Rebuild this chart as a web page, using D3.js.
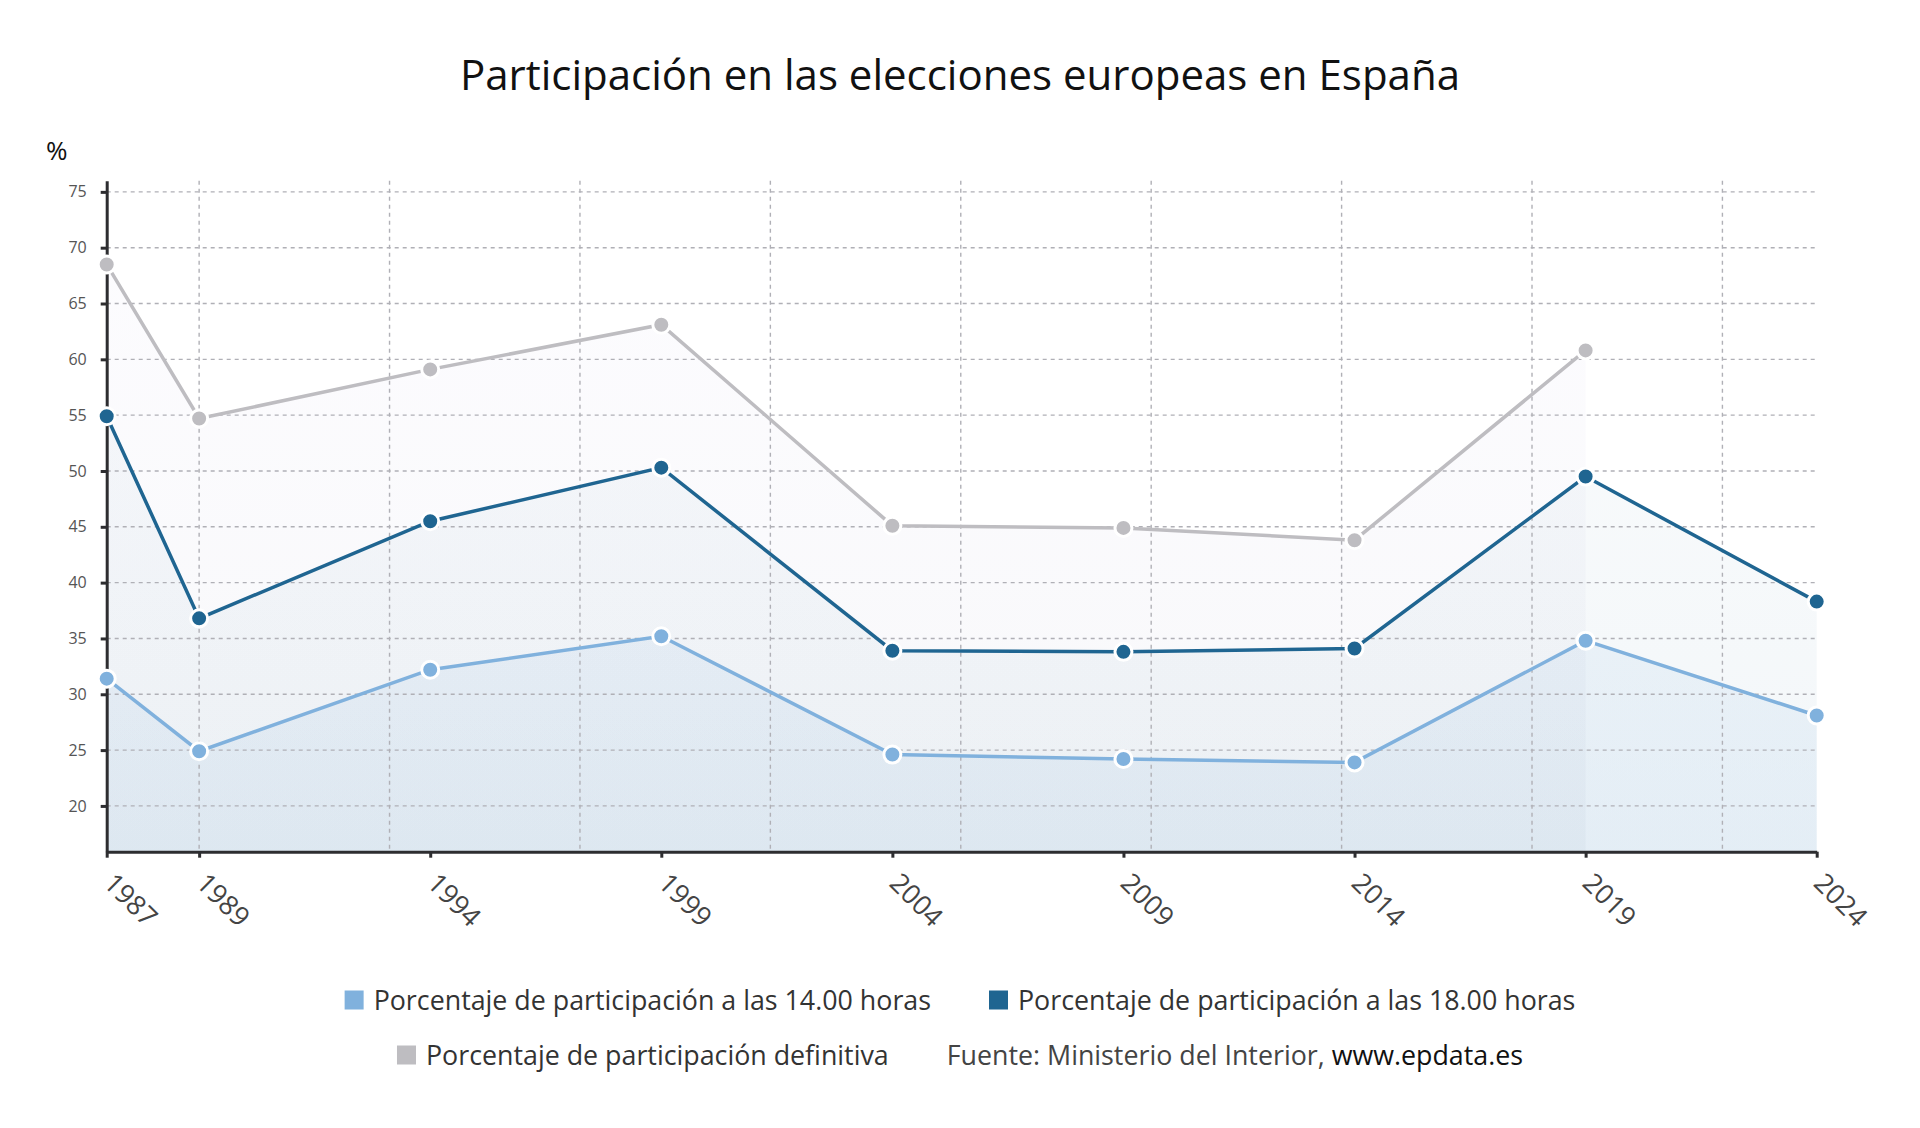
<!DOCTYPE html>
<html lang="es">
<head>
    <meta charset="UTF-8">
    <title>Participación en las elecciones europeas en España</title>
    <script src="https://d3js.org/d3.v7.min.js"></script>
    <style>
        body { margin: 0; background: #fff; }
        svg { display: block; font-family: "Open Sans", "Noto Sans", sans-serif; }
    </style>
</head>
<body>
<script>
    // data
    var years = [1987, 1989, 1994, 1999, 2004, 2009, 2014, 2019, 2024];
    var horas14 = [31.4, 24.9, 32.2, 35.2, 24.6, 24.2, 23.9, 34.8, 28.1];
    var horas18 = [54.9, 36.8, 45.5, 50.3, 33.9, 33.8, 34.1, 49.5, 38.3];
    var definitiva = [68.5, 54.7, 59.1, 63.1, 45.1, 44.9, 43.8, 60.8, null];
    var yTicks = [20, 25, 30, 35, 40, 45, 50, 55, 60, 65, 70, 75];
    var gridYears = [1989, 1993.12, 1997.24, 2001.36, 2005.48, 2009.6, 2013.72, 2017.84, 2021.96];
    var seriesNames = ["Porcentaje de participación a las 14.00 horas",
                       "Porcentaje de participación a las 18.00 horas",
                       "Porcentaje de participación definitiva"];
    var colors = ["#80b1dd", "#1f6591", "#bebdc1"];

    var w = 1920, h = 1128;
    var plotL = 106.7, plotR = 1816.7, plotT = 180.7, plotB = 851.7;

    var x = d3.scaleLinear().domain([1987, 2024]).range([plotL, plotR]);
    var y = d3.scaleLinear().domain([15.9, 76]).range([plotB, plotT]);

    var svg = d3.select("body").append("svg")
                .attr("width", w)
                .attr("height", h);

    // title
    svg.append("text")
        .attr("x", 960).attr("y", 90)
        .attr("text-anchor", "middle")
        .style("font-size", "42px")
        .style("fill", "#111")
        .text("Participación en las elecciones europeas en España");

    svg.append("text")
        .attr("x", 46).attr("y", 160)
        .style("font-size", "26px")
        .style("fill", "#111")
        .text("%");

    // gradients for the area fills
    var defs = svg.append("defs");
    var grads = [
        {id: "g14", stops: [["#80b1dd", 0.04], ["#80b1dd", 0.13]]},
        {id: "g18", stops: [["#1f6591", 0.02], ["#1f6591", 0.055]]},
        {id: "gdef", stops: [["#c4b8f0", 0.04], ["#a9b0c0", 0.09]]}
    ];
    grads.forEach(function(g) {
        var lg = defs.append("linearGradient")
            .attr("id", g.id)
            .attr("gradientUnits", "userSpaceOnUse")
            .attr("x1", 0).attr("x2", 0)
            .attr("y1", plotT).attr("y2", plotB);
        lg.append("stop").attr("offset", "0%")
            .attr("stop-color", g.stops[0][0]).attr("stop-opacity", g.stops[0][1]);
        lg.append("stop").attr("offset", "100%")
            .attr("stop-color", g.stops[1][0]).attr("stop-opacity", g.stops[1][1]);
    });

    var series = [horas14, horas18, definitiva].map(function(vals, i) {
        return {
            name: seriesNames[i],
            color: colors[i],
            grad: grads[i].id,
            points: years.map(function(yr, j) { return {year: yr, value: vals[j]}; })
                         .filter(function(d) { return d.value != null; })
        };
    });

    var area = d3.area()
        .x(function(d) { return x(d.year); })
        .y0(y(15.9))
        .y1(function(d) { return y(d.value); });

    var line = d3.line()
        .x(function(d) { return x(d.year); })
        .y(function(d) { return y(d.value); });

    // areas, back to front
    svg.append("g").selectAll("path")
        .data(series.slice().reverse())
        .join("path")
        .attr("d", function(d) { return area(d.points); })
        .style("fill", function(d) { return "url(#" + d.grad + ")"; });

    // grid
    var grid = svg.append("g")
        .style("stroke", "#b0b0b6")
        .style("stroke-width", 1.4)
        .style("stroke-dasharray", "4,4");
    grid.selectAll(".hg")
        .data(yTicks)
        .join("line")
        .attr("class", "hg")
        .attr("x1", plotL).attr("x2", plotR)
        .attr("y1", function(d) { return y(d); })
        .attr("y2", function(d) { return y(d); });
    grid.selectAll(".vg")
        .data(gridYears)
        .join("line")
        .attr("class", "vg")
        .attr("x1", function(d) { return x(d); })
        .attr("x2", function(d) { return x(d); })
        .attr("y1", plotT).attr("y2", plotB);

    // axes
    var yAxis = svg.append("g")
        .attr("transform", "translate(" + plotL + ",0)")
        .call(d3.axisLeft(y).tickValues(yTicks).tickSize(6).tickSizeOuter(0).tickPadding(14));
    yAxis.select(".domain").style("stroke", "#2d2d30").style("stroke-width", 3);
    yAxis.selectAll(".tick line").style("stroke", "#2d2d30").style("stroke-width", 3);
    yAxis.selectAll(".tick text")
        .style("font-size", "16px")
        .style("fill", "#555")
        .style("font-family", "Open Sans");

    var xAxis = svg.append("g")
        .attr("transform", "translate(0," + plotB + ")")
        .call(d3.axisBottom(x).tickValues(years).tickFormat(d3.format("d")).tickSize(6).tickSizeOuter(0));
    xAxis.select(".domain").style("stroke", "#2d2d30").style("stroke-width", 3);
    xAxis.selectAll(".tick line").style("stroke", "#2d2d30").style("stroke-width", 3);
    xAxis.selectAll(".tick text")
        .attr("y", 0).attr("dy", 0)
        .attr("text-anchor", "start")
        .attr("transform", "translate(-5,33) rotate(45)")
        .style("font-size", "27px")
        .style("fill", "#444")
        .style("font-family", "Open Sans");

    // lines
    svg.append("g").selectAll("path")
        .data(series.slice().reverse())
        .join("path")
        .attr("d", function(d) { return line(d.points); })
        .style("fill", "none")
        .style("stroke", function(d) { return d.color; })
        .style("stroke-width", 3.5);

    // points
    series.slice().reverse().forEach(function(s) {
        svg.append("g").selectAll("circle")
            .data(s.points)
            .join("circle")
            .attr("cx", function(d) { return x(d.year); })
            .attr("cy", function(d) { return y(d.value); })
            .attr("r", 8.5)
            .style("fill", s.color)
            .style("stroke", "#fff")
            .style("stroke-width", 3);
    });

    // legend
    function legendRow(items, cy) {
        var g = svg.append("g");
        var xpos = 0;
        items.forEach(function(it, i) {
            if (it.color) {
                g.append("rect")
                    .attr("x", xpos).attr("y", cy - 9.5)
                    .attr("width", 19).attr("height", 19)
                    .style("fill", it.color);
                xpos += 29;
            }
            var t = g.append("text")
                .attr("x", xpos).attr("y", cy + 9.5)
                .style("font-size", "26.8px")
                .style("fill", "#333");
            it.parts.forEach(function(p) {
                t.append("tspan").style("fill", p[1]).text(p[0]);
            });
            xpos += t.node().getComputedTextLength();
            if (i < items.length - 1) xpos += 58;
        });
        g.attr("transform", "translate(" + (960 - xpos / 2) + ",0)");
    }
    legendRow([
        {color: colors[0], parts: [[seriesNames[0], "#333"]]},
        {color: colors[1], parts: [[seriesNames[1], "#333"]]}
    ], 1000);
    legendRow([
        {color: colors[2], parts: [[seriesNames[2], "#333"]]},
        {color: null, parts: [["Fuente: Ministerio del Interior, ", "#444"], ["www.epdata.es", "#111"]]}
    ], 1055);
</script>
</body>
</html>
